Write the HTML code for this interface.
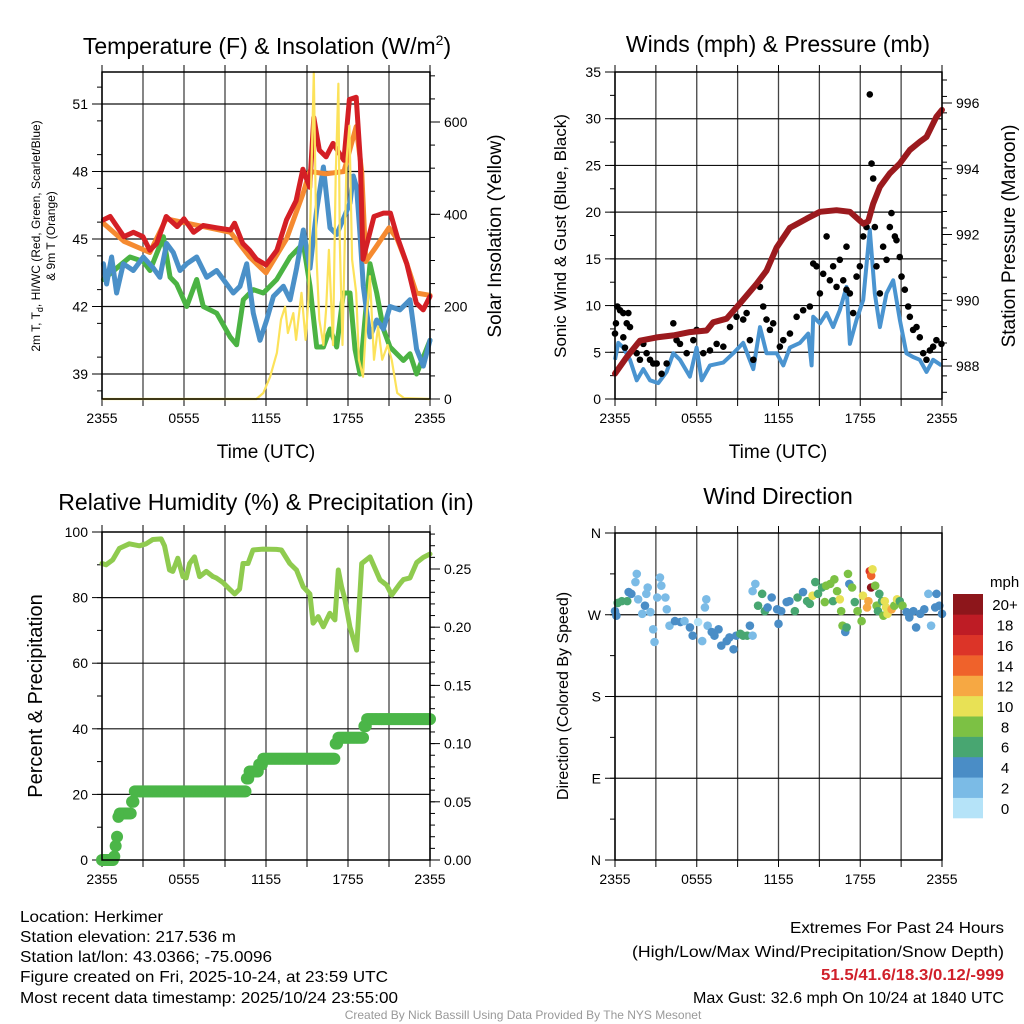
<!DOCTYPE html>
<html><head><meta charset="utf-8">
<style>
html,body{margin:0;padding:0;background:#fff;}
svg{display:block;font-family:"Liberation Sans",sans-serif;}
</style></head>
<body>
<svg id="fig" width="1024" height="1024" viewBox="0 0 1024 1024" xmlns="http://www.w3.org/2000/svg">
<rect width="1024" height="1024" fill="#fff"/>
<!-- titles -->
<text x="267" y="54" font-size="23" text-anchor="middle">Temperature (F) &amp; Insolation (W/m<tspan font-size="14" dy="-9">2</tspan><tspan dy="9">)</tspan></text>
<text x="778" y="52" font-size="23" text-anchor="middle">Winds (mph) &amp; Pressure (mb)</text>
<text x="266" y="510" font-size="23" text-anchor="middle">Relative Humidity (%) &amp; Precipitation (in)</text>
<text x="778" y="504" font-size="23" text-anchor="middle">Wind Direction</text>
<!-- axis titles -->
<text transform="translate(40,236) rotate(-90)" font-size="12" text-anchor="middle">2m T, T<tspan font-size="9" dy="3">d</tspan><tspan dy="-3">, HI/WC (Red, Green, Scarlet/Blue)</tspan></text>
<text transform="translate(55,236) rotate(-90)" font-size="12" text-anchor="middle">&amp; 9m T (Orange)</text>
<text transform="translate(501,236) rotate(-90)" font-size="19" text-anchor="middle">Solar Insolation (Yellow)</text>
<text x="266" y="458" font-size="19" text-anchor="middle">Time (UTC)</text>
<text transform="translate(566,236) rotate(-90)" font-size="17" text-anchor="middle">Sonic Wind &amp; Gust (Blue, Black)</text>
<text transform="translate(1015,236) rotate(-90)" font-size="19" text-anchor="middle">Station Pressure (Maroon)</text>
<text x="778" y="458" font-size="19" text-anchor="middle">Time (UTC)</text>
<text transform="translate(42,696) rotate(-90)" font-size="20" text-anchor="middle">Percent &amp; Precipitation</text>
<text transform="translate(568,696) rotate(-90)" font-size="16" text-anchor="middle">Direction (Colored By Speed)</text>
<!-- footer -->
<g font-size="16">
<text x="20" y="922" textLength="143" lengthAdjust="spacingAndGlyphs">Location: Herkimer</text>
<text x="20" y="942" textLength="216" lengthAdjust="spacingAndGlyphs">Station elevation: 217.536 m</text>
<text x="20" y="962" textLength="252" lengthAdjust="spacingAndGlyphs">Station lat/lon: 43.0366; -75.0096</text>
<text x="20" y="982" textLength="368" lengthAdjust="spacingAndGlyphs">Figure created on Fri, 2025-10-24, at 23:59 UTC</text>
<text x="20" y="1003" textLength="378" lengthAdjust="spacingAndGlyphs">Most recent data timestamp: 2025/10/24 23:55:00</text>
</g>
<g font-size="16" text-anchor="end">
<text x="1004" y="933" textLength="214" lengthAdjust="spacingAndGlyphs">Extremes For Past 24 Hours</text>
<text x="1004" y="957" textLength="372" lengthAdjust="spacingAndGlyphs">(High/Low/Max Wind/Precipitation/Snow Depth)</text>
<text x="1004" y="980" fill="#d0202a" font-weight="bold" textLength="183" lengthAdjust="spacingAndGlyphs">51.5/41.6/18.3/0.12/-999</text>
<text x="1004" y="1003" textLength="311" lengthAdjust="spacingAndGlyphs">Max Gust: 32.6 mph On 10/24 at 1840 UTC</text>
</g>
<text x="523" y="1019" font-size="12" fill="#999" text-anchor="middle">Created By Nick Bassill Using Data Provided By The NYS Mesonet</text>
<g id="layer"></g>
</svg>
<script>
// ---------- data ----------
var timeTickLabels = ["2355","0555","1155","1755","2355"];
var tempTicks = [39,42,45,48,51];
var solarTicks = [0,200,400,600];
var windTicks = [0,5,10,15,20,25,30,35];
var pressTicks = [988,990,992,994,996];
var rhTicks = [0,20,40,60,80,100];
var precipTicks = [0,0.05,0.10,0.15,0.20,0.25];
var precipTickLabels = ["0.00","0.05","0.10","0.15","0.20","0.25"];
var dirTickLabels = ["N","E","S","W","N"];
var dirTicks = [0,90,180,270,360];

var redT = [0.1,0.6,1.6,2.3,3.0,3.5,4.0,4.7,5.5,6.0,6.7,7.4,8.4,9.4,9.7,10.3,10.8,11.3,12.0,12.8,13.5,14.2,14.7,15.2,15.5,15.9,16.4,16.9,17.7,18.1,18.6,18.9,19.1,19.9,20.6,21.1,21.6,22.3,23.0,23.5,24];
var redV = [45.85,46.0,45.1,45.3,45.1,44.5,44.8,46.0,45.55,45.9,45.3,45.6,45.5,45.4,45.7,44.8,44.5,44.1,43.85,44.5,45.85,46.7,48.1,47.3,50.4,48.95,48.65,49.25,48.5,51.2,51.3,48.5,44.1,46.0,46.15,46.15,45.1,43.9,42.15,41.85,42.45];
var orangeT = [0.1,1.6,3.5,4.7,9.4,10.8,12.0,13.5,14.7,15.2,16.4,17.7,18.6,19.0,19.3,20.0,21.0,21.6,22.3,23.0,24];
var orangeV = [45.7,44.9,44.4,45.9,45.3,44.2,43.5,45.0,47.0,48.0,47.9,48.0,50.0,48.0,44.0,44.6,45.5,45.0,43.9,42.6,42.5];
var blueT = [0.1,0.34,0.7,1.07,1.56,2.29,3.02,3.76,4.24,4.73,5.22,5.71,6.2,6.93,7.66,8.39,9.61,10.1,10.59,11.07,11.56,12.05,12.54,13.27,13.76,14.24,14.73,15.22,15.71,16.2,16.68,17.17,17.66,18.15,18.39,18.63,18.88,19.12,19.61,20.1,20.59,21.07,21.8,22.54,23.02,23.51,24];
var blueV = [43.9,43.0,44.2,42.6,43.9,43.6,44.2,43.7,43.3,44.8,44.4,43.6,43.9,44.2,43.3,43.6,42.6,42.9,43.9,41.7,40.5,41.4,42.45,42.9,42.3,43.7,45.4,43.7,46.3,48.2,45.5,45.2,45.9,46.6,47.8,47.3,45.2,42.9,40.65,41.4,41.0,42.0,41.85,42.3,40.1,39.35,40.5];
var greenT = [0.1,1.07,2.05,3.02,3.51,4.49,4.98,5.46,6.2,6.93,7.41,8.39,9.37,9.85,10.34,11.07,11.8,12.78,13.76,14.73,15.22,15.71,16.2,16.68,17.17,17.66,18.15,18.51,18.88,19.24,19.61,20.1,20.59,21.07,22.05,22.54,23.02,24];
var greenV = [43.2,43.7,44.2,44.0,43.6,45.1,43.3,43.0,42.0,43.2,42.0,41.7,40.65,40.3,42.3,42.75,42.6,43.2,44.2,44.8,42.9,40.2,40.2,41.0,40.2,42.6,42.6,40.1,39.0,41.4,43.9,42.6,41.0,40.2,39.6,39.9,39.0,40.5];
var solarT = [0,11.3,11.8,12.3,12.8,13.1,13.4,13.6,14.0,14.2,14.6,14.9,15.1,15.3,15.5,15.7,15.9,16.2,16.4,16.6,16.9,17.1,17.3,17.4,17.6,17.9,18.1,18.3,18.6,18.8,19.1,19.4,19.6,19.9,20.2,20.5,20.9,21.2,21.6,22.1,24];
var solarV = [0,0,13,48,100,172,200,143,186,128,230,128,215,462,708,302,172,117,194,323,117,483,683,339,117,520,592,302,230,85,48,194,266,85,157,85,117,85,13,2,0];
var pressT = [0,0.86,1.83,3.06,4.28,5.5,6.72,7.21,8.19,9.17,10.39,11.12,11.86,12.83,14.06,15.04,16.26,17.24,18.22,18.58,18.95,19.44,20.17,20.9,21.64,22.37,22.86,23.59,24];
var pressV = [987.77,988.27,988.77,988.87,988.93,989.03,989.08,989.33,989.44,989.9,990.5,990.9,991.6,992.2,992.48,992.69,992.74,992.69,992.33,992.4,992.94,993.45,993.86,994.16,994.57,994.82,994.97,995.58,995.79];
var sonicT = [0,0.24,0.61,1.1,1.59,2.08,2.57,3.18,3.79,4.28,4.77,5.5,5.99,6.36,6.97,7.95,8.68,9.41,10.15,10.64,11.12,11.86,12.35,12.84,13.57,14.18,14.43,14.55,15.04,15.53,16.01,16.5,16.99,17.24,17.73,18.22,18.7,19.07,19.44,19.93,20.42,20.9,21.39,21.88,22.37,22.86,23.35,23.96];
var sonicV = [4.2,6.0,5.5,4.2,2.0,3.2,2.0,1.7,2.9,4.9,4.2,2.4,5.5,2.0,3.6,3.9,4.9,6.0,3.2,7.7,4.9,4.9,3.6,5.5,6.0,7.0,3.6,8.8,8.1,9.2,7.7,9.5,12.0,5.9,8.5,10.6,18.1,11.3,7.7,11.3,12.7,8.5,4.9,4.5,4.2,2.9,4.2,3.6];
var gustT = [0,0.07,0.17,0.37,0.61,0.86,0.98,1.1,0.61,0.73,1.59,1.83,2.08,2.32,2.57,2.81,3.06,3.42,3.79,4.28,4.52,4.77,5.26,5.75,5.99,6.48,6.97,7.46,7.95,8.44,8.92,9.41,9.66,9.9,10.15,10.64,10.88,11.12,11.37,11.61,12.1,12.35,12.84,13.33,13.81,14.3,14.55,14.79,15.04,15.28,15.53,15.77,16.01,16.26,16.5,16.75,16.99,16.99,17.24,17.48,17.73,17.97,18.22,18.46,18.7,18.83,18.95,19.07,19.19,19.44,19.68,19.93,20.17,20.29,20.54,20.66,20.9,21.03,21.27,21.52,21.64,21.88,22.13,22.37,22.62,22.86,23.11,23.35,23.59,23.96];
var gustV = [7.0,8.1,9.9,9.5,9.2,8.1,9.2,7.7,6.6,5.5,4.9,4.2,5.9,4.9,4.2,3.8,3.8,2.7,3.8,8.1,6.3,5.9,4.9,6.3,7.4,4.9,5.2,5.9,5.6,7.7,8.8,8.5,9.2,6.3,4.2,12.0,9.9,8.5,7.4,8.1,5.6,6.3,7.0,8.8,9.5,9.9,14.5,14.2,11.3,13.4,17.4,12.7,14.2,12.0,14.9,12.7,16.3,11.7,11.3,9.2,13.1,14.2,17.4,18.4,32.6,25.2,23.6,18.4,14.2,11.3,16.3,14.9,18.4,19.9,17.4,17.0,15.2,13.1,11.7,9.9,8.8,7.4,7.7,6.6,4.9,4.2,5.2,5.6,6.3,5.9];
var rhT = [0,0.29,0.78,1.27,2.0,2.74,3.23,3.72,4.33,4.57,4.94,5.18,5.55,5.92,6.16,6.41,6.77,7.14,7.63,8.12,8.36,8.85,9.34,9.71,10.07,10.32,10.68,11.05,11.78,12.76,13.13,13.74,14.23,14.72,15.21,15.45,15.82,16.19,16.67,17.04,17.29,17.53,17.78,18.14,18.63,19.0,19.61,20.34,20.83,21.2,21.81,22.05,22.54,23.03,23.52,24];
var rhV = [90.4,90.0,91.5,95.0,96.4,95.8,96.4,97.7,97.9,95.8,88.4,88.0,92.0,86.4,86.0,90.4,92.4,86.4,88.0,86.4,86.0,84.6,82.6,81.1,82.6,90.4,90.4,94.5,94.8,94.7,94.5,90.4,88.4,83.3,81.1,72.2,74.2,71.1,75.2,73.2,88.4,83.3,79.3,71.1,64.0,90.4,92.4,85.4,83.8,80.8,84.3,85.5,86.0,90.7,92.3,93.3];
var precipT = [0,0.9,1.0,1.05,1.2,1.3,2.2,2.4,10.6,10.8,11.5,11.8,17.1,17.3,19.2,19.4];
var precipV = [0,0.003,0.012,0.02,0.037,0.04,0.05,0.059,0.07,0.076,0.082,0.087,0.1,0.105,0.115,0.121];
var dirT = [0.0,0.1,0.2,0.5,0.9,1.0,1.2,1.5,1.6,1.7,2.0,2.2,2.3,2.4,2.6,2.8,2.9,3.1,3.3,3.4,3.7,3.8,4.0,4.4,4.8,5.1,5.5,5.7,6.1,6.4,6.6,6.7,6.8,7.1,7.3,7.6,7.8,8.2,8.4,8.7,8.9,9.2,9.4,9.7,9.9,10.1,10.1,10.3,10.5,10.8,11.0,11.2,11.5,11.9,12.0,12.2,12.6,12.8,13.2,13.4,13.8,14.1,14.3,14.5,14.7,14.9,15.2,15.4,15.5,15.8,16.0,16.1,16.3,16.5,16.6,16.7,16.9,17.0,17.1,17.2,17.4,17.6,17.8,18.1,18.2,18.5,18.6,18.7,18.8,18.8,18.9,19.1,19.2,19.3,19.4,19.6,19.7,19.8,19.9,20.0,20.3,20.5,20.7,20.9,21.1,21.4,21.6,21.9,22.1,22.4,22.7,23.0,23.2,23.5,23.6,23.8,24.0];
var dirV = [274,269,283,285,285,295,293,306,315,287,271,280,293,300,273,254,240,289,311,302,289,276,258,263,262,263,256,247,262,241,278,287,258,251,247,254,236,241,245,232,247,249,247,247,258,247,296,304,280,293,274,278,289,276,260,274,284,285,274,289,295,285,282,291,306,293,300,284,302,304,285,309,296,287,274,258,251,256,315,304,300,284,274,263,291,278,285,318,313,300,320,302,280,274,293,285,269,285,278,271,276,280,287,285,280,273,267,274,256,271,276,293,258,278,293,280,271];
var dirSpd = [5,5,7,7,7,5,5,3,3,3,3,5,3,3,3,3,3,3,3,3,3,3,3,5,5,3,5,5,1,3,3,3,3,5,5,5,5,5,5,5,5,7,7,7,5,3,3,3,7,7,7,5,5,5,5,5,5,5,7,7,5,7,7,11,7,7,7,9,9,9,7,9,9,11,9,9,5,7,9,5,9,7,9,9,11,13,13,17,15,21,11,9,9,7,7,7,9,11,11,11,13,9,11,7,9,5,5,5,5,5,5,3,3,5,5,5,5];
var speedBinLabels = ["0","2","4","6","8","10","12","14","16","18","20+"];
var speedColors = ["#b5e3f8","#7bbbe6","#4a8dc6","#48a671","#7cc144","#e8e155","#f6a843","#ef622b","#dc3428","#be1c25","#8d161b"];

// ---------- helpers ----------
var NS="http://www.w3.org/2000/svg";
var layer=document.getElementById('layer');
function mk(tag,attrs,parent){var e=document.createElementNS(NS,tag);for(var k in attrs)e.setAttribute(k,attrs[k]);(parent||layer).appendChild(e);return e;}
function lin(d0,d1,r0,r1){return function(v){return r0+(v-d0)*(r1-r0)/(d1-d0);};}
function pathFrom(ts,vs,xs,ys){var d="";for(var i=0;i<ts.length;i++){d+=(i?"L":"M")+xs(ts[i]).toFixed(1)+","+ys(vs[i]).toFixed(1);}return d;}

function frame(L,R,T,B,name){
  var g=mk('g',{});
  
  
  var xs=lin(0,24,L,R);
  for(var i=0;i<=8;i++){var x=xs(i*3);
    var gl=mk('line',{x1:x,x2:x,y1:T,y2:B,stroke:'#444','stroke-width':1.3},g);
    
    
    mk('line',{x1:x,x2:x,y1:B,y2:B+7,stroke:'#000','stroke-width':1},g);
    mk('line',{x1:x,x2:x,y1:T,y2:T-7,stroke:'#000','stroke-width':1},g);
  }
  for(var j=0;j<5;j++){
    var tl=mk('text',{x:xs(j*6),y:B+24,'font-size':14,'text-anchor':'middle'},g);
    tl.textContent=timeTickLabels[j];
    
    
  }
  return {g:g,xs:xs};
}
function hgrid(g,ys,ticks,L,R){ticks.forEach(function(v){var y=ys(v);var l=mk('line',{x1:L,x2:R,y1:y,y2:y,stroke:'#111','stroke-width':1.2},g);
  
  });}
function yticks(g,ys,ticks,labels,x,side,minorStep,lo,hi){
  for(var v=lo;v<=hi+1e-9;v+=minorStep){var y=ys(v);mk('line',{x1:x,x2:x+(side<0?-5:5),y1:y,y2:y,stroke:'#000','stroke-width':1},g);}
  ticks.forEach(function(v,i){var y=ys(v);mk('line',{x1:x,x2:x+(side<0?-10:10),y1:y,y2:y,stroke:'#000','stroke-width':1},g);
    var t=mk('text',{x:x+(side<0?-14:14),y:y+5,'font-size':14,'text-anchor':side<0?'end':'start'},g);
    t.textContent=labels?labels[i]:v;
    
    });
}
function box(g,L,R,T,B){mk('rect',{x:L,y:T,width:R-L,height:B-T,fill:'none',stroke:'#000','stroke-width':1.5},g);}

// ---------- Panel 1: temperature ----------
(function(){
  var L=102,R=430,T=72,B=399;
  var f=frame(L,R,T,B,'temperature-chart');var g=f.g,xs=f.xs;
  var yT=lin(39,51,374,104), yS=lin(0,600,399,122);
  hgrid(g,yT,tempTicks,L,R);
  yticks(g,yT,tempTicks,null,L,-1,1.5,38.25,52.3);
  yticks(g,yS,solarTicks,null,R,1,50,0,700);
  var s=[['green',greenT,greenV,'#4bb343'],['blue',blueT,blueV,'#4a90c8'],['orange',orangeT,orangeV,'#f58a30'],['red',redT,redV,'#d41f25']];
  s.forEach(function(a){var p=mk('path',{d:pathFrom(a[1],a[2],xs,yT),fill:'none',stroke:a[3],'stroke-width':5,'stroke-linejoin':'round','stroke-linecap':'round'},g);
    
    });
  var p=mk('path',{d:pathFrom(solarT,solarV,xs,yS),fill:'none',stroke:'#fce25a','stroke-width':2.2,'stroke-linejoin':'round'},g);
  
  
  box(g,L,R,T,B);
})();

// ---------- Panel 2: winds ----------
(function(){
  var L=615,R=942,T=72,B=399;
  var f=frame(L,R,T,B,'wind-pressure-chart');var g=f.g,xs=f.xs;
  var yW=lin(0,35,399,72), yP=lin(988,996,366,103);
  hgrid(g,yW,windTicks.slice(1,7),L,R);
  yticks(g,yW,windTicks,null,L,-1,2.5,0,35);
  yticks(g,yP,pressTicks,null,R,1,0.5,987.2,997);
  var p=mk('path',{d:pathFrom(sonicT,sonicV,xs,yW),fill:'none',stroke:'#4a94d0','stroke-width':4,'stroke-linejoin':'round'},g);
  
  
  for(var i=0;i<gustT.length;i++){var c=mk('circle',{cx:xs(gustT[i]),cy:yW(gustV[i]),r:3.3,fill:'#000'},g);
    
    }
  var q=mk('path',{d:pathFrom(pressT,pressV,xs,yP),fill:'none',stroke:'#9b1a1e','stroke-width':6,'stroke-linejoin':'round','stroke-linecap':'round'},g);
  
  
  box(g,L,R,T,B);
})();

// ---------- Panel 3: RH & precip ----------
(function(){
  var L=102,R=430,T=532,B=860;
  var f=frame(L,R,T,B,'humidity-precip-chart');var g=f.g,xs=f.xs;
  var yR=lin(0,100,860,532), yP=lin(0,0.25,860,569);
  hgrid(g,yR,[20,40,60,80],L,R);
  yticks(g,yR,rhTicks,null,L,-1,10,0,100);
  yticks(g,yP,precipTicks,precipTickLabels,R,1,0.01,0,0.28);
  var p=mk('path',{d:pathFrom(rhT,rhV,xs,yR),fill:'none',stroke:'#8fcb4f','stroke-width':5,'stroke-linejoin':'round','stroke-linecap':'round'},g);
  
  
  var k=0;
  for(var t=0;t<=24.001;t+=0.1){while(k+1<precipT.length&&precipT[k+1]<=t+1e-9)k++;
    var c=mk('circle',{cx:xs(t),cy:yP(precipV[k]),r:6,fill:'#4bb648'},g);
    
    }
  box(g,L,R,T,B);
})();

// ---------- Panel 4: direction ----------
(function(){
  var L=615,R=942,T=533,B=860;
  var f=frame(L,R,T,B,'wind-direction-chart');var g=f.g,xs=f.xs;
  var yD=lin(0,360,860,533);
  hgrid(g,yD,[90,180,270],L,R);
  yticks(g,yD,dirTicks,dirTickLabels,L,-1,45,0,360);
  for(var i=0;i<dirT.length;i++){var bin=Math.min(10,Math.floor(dirSpd[i]/2));
    var c=mk('circle',{cx:xs(dirT[i]),cy:yD(dirV[i]),r:4.3,fill:speedColors[bin]},g);
    
    }
  box(g,L,R,T,B);
  var lg=mk('g',{});
  
  
  var t0=mk('text',{x:990,y:587,'font-size':15},lg);t0.textContent='mph';
  var h=224/11;
  for(var j=0;j<11;j++){var y=594+(10-j)*h;
    var r=mk('rect',{x:953,y:y,width:30,height:h+0.3,fill:speedColors[j]},lg);
    
    
    var tl=mk('text',{x:1005,y:y+h/2+6,'font-size':15,'text-anchor':'middle'},lg);tl.textContent=speedBinLabels[j];
    
    }
})();
</script>
</body></html>
